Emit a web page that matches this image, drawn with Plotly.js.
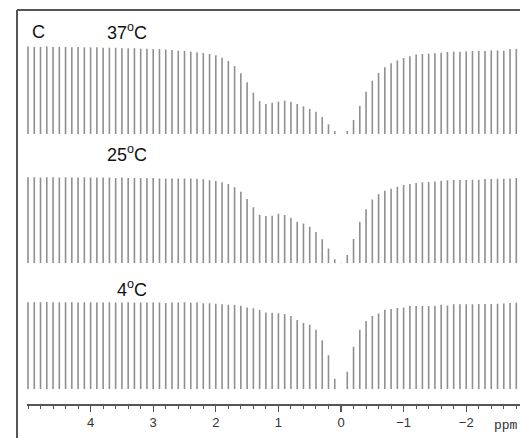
<!DOCTYPE html>
<html>
<head>
<meta charset="utf-8">
<script src="https://cdn.plot.ly/plotly-3.0.1.min.js"></script>
<style>html,body{margin:0;padding:0;background:#fff;}#chart{width:520px;height:438px;}</style>
</head>
<body>
<div id="chart"></div>
<script>
// Saturation offsets (ppm), one stick per offset
const offsets = [5.0,4.9,4.8,4.7,4.6,4.5,4.4,4.3,4.2,4.1,4.0,3.9,3.8,3.7,3.6,3.5,3.4,3.3,3.2,3.1,3.0,
  2.9,2.8,2.7,2.6,2.5,2.4,2.3,2.2,2.1,2.0,1.9,1.8,1.7,1.6,1.5,1.4,1.3,1.2,1.1,1.0,
  0.9,0.8,0.7,0.6,0.5,0.4,0.3,0.2,0.1,0.0,-0.1,-0.2,-0.3,-0.4,-0.5,-0.6,-0.7,-0.8,-0.9,-1.0,
  -1.1,-1.2,-1.3,-1.4,-1.5,-1.6,-1.7,-1.8,-1.9,-2.0,-2.1,-2.2,-2.3,-2.4,-2.5,-2.6,-2.7,-2.8];

// Normalized signal (S/S0) for each temperature
const signal37 = [0.995,0.99,0.99,0.995,0.99,0.99,0.99,0.985,0.99,0.985,0.985,0.985,0.98,0.98,0.98,0.975,0.975,0.975,0.97,0.97,0.965,
  0.965,0.96,0.955,0.947,0.943,0.936,0.928,0.92,0.909,0.894,0.867,0.83,0.773,0.689,0.587,0.47,0.375,0.34,0.356,0.367,
  0.379,0.367,0.34,0.314,0.284,0.254,0.193,0.11,0.034,0.0,0.034,0.159,0.318,0.48,0.606,0.693,0.758,0.803,0.837,0.864,
  0.883,0.902,0.909,0.913,0.917,0.924,0.932,0.936,0.936,0.939,0.943,0.943,0.943,0.95,0.95,0.947,0.966,0.966];

const signal25 = [0.995,0.995,0.99,0.995,0.995,0.99,0.995,0.99,0.99,0.995,0.99,0.99,0.99,0.99,0.985,0.99,0.985,0.985,0.985,0.985,0.985,
  0.98,0.98,0.98,0.98,0.98,0.98,0.975,0.97,0.96,0.95,0.935,0.915,0.877,0.827,0.742,0.646,0.56,0.546,0.55,0.573,
  0.558,0.527,0.48,0.46,0.423,0.36,0.277,0.17,0.046,0.005,0.096,0.28,0.48,0.623,0.738,0.8,0.838,0.862,0.885,0.904,
  0.915,0.927,0.935,0.938,0.946,0.954,0.958,0.962,0.962,0.962,0.965,0.965,0.973,0.973,0.977,0.977,0.98,0.985];

const signal4 = [0.995,0.995,0.995,1.0,0.995,0.995,0.995,0.995,0.99,0.995,0.995,0.99,0.99,0.995,0.99,0.99,0.995,0.99,0.99,0.99,0.99,
  0.99,0.985,0.99,0.992,0.995,0.989,0.99,0.981,0.981,0.977,0.97,0.966,0.962,0.955,0.935,0.924,0.905,0.878,0.875,0.867,
  0.859,0.837,0.791,0.757,0.738,0.68,0.56,0.39,0.12,0.0,0.2,0.485,0.68,0.78,0.837,0.865,0.909,0.916,0.928,0.935,
  0.95,0.95,0.95,0.95,0.954,0.966,0.958,0.97,0.97,0.97,0.97,0.973,0.973,0.973,0.977,0.98,0.985,0.989];

const panelLabels = ['37<sup>o</sup>C', '25<sup>o</sup>C', '4<sup>o</sup>C'];
const tickValues = [4, 3, 2, 1, 0, -1, -2];

function sticks(xs, vs) {
  const x = [], y = [];
  xs.forEach((p, i) => { x.push(p, p, null); y.push(0, vs[i], null); });
  return {x, y};
}

const W = 520, H = 438, L = 27;
const px = v => (v - L) / (W - L);
const py = v => 1 - v / H;

const stickStyle = {color: '#8f8f8f', width: 1.6};
const series = [signal37, signal25, signal4];
const yNames = ['y', 'y2', 'y3'];
const traces = series.map((s, i) => {
  const d = sticks(offsets, s);
  return {x: d.x, y: d.y, xaxis: 'x', yaxis: yNames[i], type: 'scatter', mode: 'lines',
          line: stickStyle, hoverinfo: 'skip', connectgaps: false};
});

const yBase = {range: [0, 1], visible: false, fixedrange: true, anchor: 'x'};
const layout = {
  width: W, height: H,
  margin: {l: L, r: 0, t: 0, b: 0, pad: 0},
  paper_bgcolor: '#fff', plot_bgcolor: '#fff',
  showlegend: false,
  xaxis: {
    range: [5.016, -2.859], anchor: 'free', position: 1 - 404 / H,
    showline: true, linecolor: '#555', linewidth: 1.5,
    showgrid: false, zeroline: false,
    tickmode: 'array', tickvals: tickValues,
    ticks: 'outside', ticklen: 6, tickwidth: 1.3, tickcolor: '#555',
    tickfont: {family: 'Liberation Sans, Arial, sans-serif', size: 13, color: '#333'},
    minor: {tickmode: 'linear', tick0: 0, dtick: 0.2, ticks: 'outside', ticklen: 3.5, tickwidth: 1, tickcolor: '#555', showgrid: false}
  },
  yaxis: Object.assign({}, yBase, {domain: [py(134), py(46)]}),
  yaxis2: Object.assign({}, yBase, {domain: [py(263.3), py(176.7)]}),
  yaxis3: Object.assign({}, yBase, {domain: [py(389.3), py(301.7)]}),
  shapes: [
    {type: 'line', xref: 'paper', yref: 'paper', x0: px(17), y0: py(10), x1: 1.02, y1: py(10), line: {color: '#555', width: 2}},
    {type: 'line', xref: 'paper', yref: 'paper', x0: px(17), y0: py(10), x1: px(17), y1: -0.02, line: {color: '#555', width: 2}}
  ],
  annotations: [
    {text: 'C', xref: 'paper', yref: 'paper', x: px(38), y: py(32), xanchor: 'center', yanchor: 'middle', showarrow: false,
     font: {family: 'Liberation Sans, Arial, sans-serif', size: 18, color: '#111'}},
    {text: panelLabels[0], xref: 'paper', yref: 'paper', x: px(149), y: py(31), xanchor: 'right', yanchor: 'middle', showarrow: false,
     font: {family: 'Liberation Sans, Arial, sans-serif', size: 18, color: '#111'}},
    {text: panelLabels[1], xref: 'paper', yref: 'paper', x: px(149), y: py(154), xanchor: 'right', yanchor: 'middle', showarrow: false,
     font: {family: 'Liberation Sans, Arial, sans-serif', size: 18, color: '#111'}},
    {text: panelLabels[2], xref: 'paper', yref: 'paper', x: px(149), y: py(288), xanchor: 'right', yanchor: 'middle', showarrow: false,
     font: {family: 'Liberation Sans, Arial, sans-serif', size: 18, color: '#111'}},
    {text: 'ppm', xref: 'paper', yref: 'paper', x: px(506), y: py(425), xanchor: 'center', yanchor: 'middle', showarrow: false,
     font: {family: 'Liberation Mono, DejaVu Sans Mono, monospace', size: 13, color: '#333'}}
  ]
};

Plotly.newPlot('chart', traces, layout, {staticPlot: true, displayModeBar: false});
</script>
</body>
</html>
